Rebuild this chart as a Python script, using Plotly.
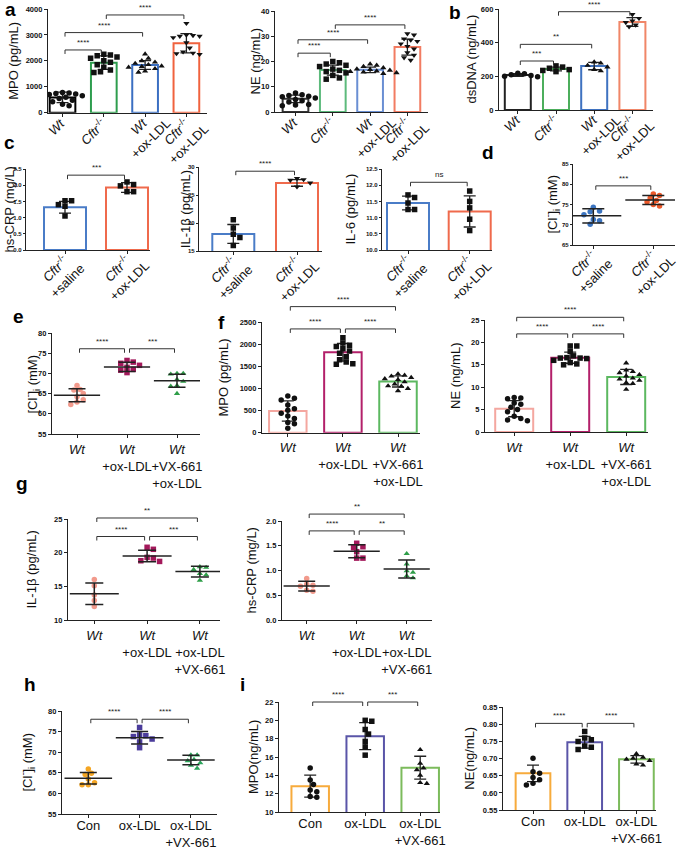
import re
import numpy as np
import plotly.graph_objects as go

W, H = 685, 849
FONT = "Arial, Liberation Sans, sans-serif"

# ---------------- data ----------------
GROUPS_A = ["<i>Wt</i>", "<i>Cftr</i><sup>-/-</sup>", "<i>Wt</i><br>+ox-LDL",
            "<i>Cftr</i><sup>-/-</sup><br>+ox-LDL"]
GROUPS_C = ["<i>Cftr</i><sup>-/-</sup><br>+saline", "<i>Cftr</i><sup>-/-</sup><br>+ox-LDL"]
GROUPS_EF = ["<i>Wt</i>", "<i>Wt</i><br>+ox-LDL", "<i>Wt</i><br>+VX-661<br>+ox-LDL"]
GROUPS_G = ["<i>Wt</i>", "<i>Wt</i><br>+ox-LDL", "<i>Wt</i><br>+ox-LDL<br>+VX-661"]
GROUPS_HI = ["Con", "ox-LDL", "ox-LDL<br>+VX-661"]

MPO_A = [[780, 760, 740, 720, 700, 650, 600, 550, 480, 420, 330, 270],
         [2250, 2230, 2200, 2150, 2100, 2000, 1950, 1850, 1750, 1650, 1580, 1550],
         [2260, 2100, 2000, 1950, 1900, 1850, 1800, 1780, 1750, 1700, 1600, 1560],
         [3450, 3000, 2980, 2950, 2950, 2900, 2700, 2500, 2350, 2300, 2280, 2250]]
MPO_A_MEAN = [590, 1930, 1840, 2680]
MPO_A_SD = [200, 260, 170, 370]

NE_A = [[7.5, 6.8, 6.5, 6.2, 6.0, 5.5, 5.0, 4.5, 4.0, 3.0, 2.8, 2.5],
        [20, 19.5, 19, 18.5, 18, 17, 16.5, 16, 15.5, 14.5, 13.5, 13],
        [19, 18.5, 18, 17.5, 17, 16.8, 16.5, 16.2, 16, 15.8, 15.5, 15.2],
        [31, 30.5, 29, 28.5, 28, 27, 26, 25, 23.5, 22.5, 21.5, 20.5]]
NE_A_MEAN = [5.2, 16.6, 16.7, 25.7]
NE_A_SD = [1.5, 2.0, 1.1, 3.2]

DSDNA_B = [[218, 215, 210, 205, 200, 198],
           [262, 255, 248, 240, 235, 228],
           [285, 278, 265, 255, 240, 232],
           [568, 545, 530, 520, 505, 495]]
DSDNA_B_MEAN = [208, 244, 261, 523]
DSDNA_B_SD = [8, 11, 22, 26]

CRP_C = [[1.52, 1.52, 1.40, 1.35, 1.05], [2.10, 2.02, 1.98, 1.80, 1.80]]
CRP_C_MEAN = [1.32, 1.93]
CRP_C_SD = [0.18, 0.15]

IL1B_C = [[20.6, 19.1, 18.0, 17.4, 16.0], [28.0, 27.8, 27.7, 27.2, 26.5]]
IL1B_C_MEAN = [18.05, 27.2]
IL1B_C_SD = [1.7, 0.6]

IL6_C = [[11.70, 11.62, 11.45, 11.25, 11.25], [11.82, 11.50, 11.30, 10.95, 10.60]]
IL6_C_MEAN = [11.45, 11.19]
IL6_C_SD = [0.21, 0.48]

CL_D = [[74.3, 73.4, 73.2, 72.5, 71.3, 71.0, 70.1],
        [77.6, 77.2, 76.6, 76.0, 75.6, 75.0, 74.6]]
CL_D_MEAN = [72.2, 76.1]
CL_D_SD = [1.75, 1.1]

CL_E = [[67.0, 66.0, 65.9, 65.0, 64.2, 63.5, 62.9, 62.3],
        [73.2, 72.8, 72.5, 72.0, 71.5, 71.0, 70.8, 70.2],
        [70.0, 70.0, 69.8, 68.5, 68.0, 67.0, 66.8, 65.0]]
CL_E_MEAN = [64.6, 71.6, 68.2]
CL_E_SD = [1.6, 1.15, 1.6]

MPO_F = [[830, 780, 740, 630, 540, 510, 440, 380, 320, 230, 200, 100],
         [2150, 2030, 1980, 1950, 1900, 1850, 1800, 1720, 1650, 1600, 1560, 1550],
         [1330, 1300, 1280, 1250, 1220, 1200, 1150, 1100, 1060, 1050, 1000, 950]]
MPO_F_MEAN = [490, 1820, 1160]
MPO_F_SD = [230, 200, 125]

NE_F = [[7.7, 7.6, 7.4, 6.5, 6.2, 5.5, 5.0, 4.5, 3.5, 3.0, 2.7, 2.5],
        [19.2, 19.2, 18.0, 17.0, 16.6, 16.5, 16.5, 16.4, 16.0, 15.5, 15.2, 15.0],
        [15.4, 13.8, 13.5, 13.2, 12.8, 12.5, 12.0, 11.8, 11.5, 11.0, 10.8, 9.5]]
NE_F_MEAN = [5.2, 16.6, 12.3]
NE_F_SD = [1.8, 1.25, 1.7]

IL1B_G = [[16.0, 15.1, 13.7, 12.9, 12.0],
          [20.8, 20.5, 19.3, 19.2, 18.8, 18.7],
          [17.9, 17.8, 17.5, 16.9, 16.7, 15.9]]
IL1B_G_MEAN = [13.9, 19.5, 17.2]
IL1B_G_SD = [1.6, 0.85, 0.8]

CRP_G = [[0.84, 0.72, 0.70, 0.68, 0.60, 0.58],
         [1.55, 1.48, 1.46, 1.38, 1.25, 1.25],
         [1.34, 1.13, 0.99, 0.96, 0.89, 0.85]]
CRP_G_MEAN = [0.685, 1.39, 1.03]
CRP_G_SD = [0.10, 0.13, 0.18]

CL_H = [[65.9, 64.9, 64.6, 63.5, 62.6, 62.1, 62.1],
        [76.0, 74.2, 74.0, 73.8, 73.2, 72.5, 71.1],
        [69.3, 69.3, 68.2, 67.9, 67.4, 66.8, 66.1]]
CL_H_MEAN = [63.7, 73.5, 68.1]
CL_H_SD = [1.4, 1.5, 1.15]

MPO_I = [[14.8, 13.5, 13.0, 12.4, 12.2, 11.7, 11.6],
         [20.0, 19.9, 19.0, 18.5, 17.7, 17.1, 16.2],
         [16.8, 15.3, 14.8, 14.6, 14.0, 13.2, 13.1]]
MPO_I_MEAN = [12.82, 18.27, 14.83]
MPO_I_SD = [1.2, 1.47, 1.25]

NE_I = [[0.701, 0.662, 0.657, 0.645, 0.638, 0.628, 0.623],
        [0.779, 0.760, 0.755, 0.750, 0.737, 0.733, 0.727],
        [0.714, 0.704, 0.701, 0.698, 0.694, 0.684, 0.681]]
NE_I_MEAN = [0.657, 0.748, 0.698]
NE_I_SD = [0.024, 0.017, 0.011]

# significance brackets: (group i, group j, height, label)
BR_MPO_A = [(0, 1, 2420, "****"), (0, 2, 3090, "****"), (1, 3, 3770, "****")]
BR_NE_A = [(0, 1, 23.3, "****"), (0, 2, 28.6, "****"), (1, 3, 34.5, "****")]
BR_DSDNA_B = [(0, 1, 291, "***"), (0, 2, 390, "**"), (1, 3, 584, "****")]
BR_CRP_C = [(0, 1, 2.31, "***")]
BR_IL1B_C = [(0, 1, 29.3, "****")]
BR_IL6_C = [(0, 1, 12.09, "ns")]
BR_CL_D = [(0, 1, 79.6, "***")]
BR_CL_E = [(0, 1, 76.1, "****"), (1, 2, 76.1, "***")]
BR_MPO_F = [(0, 1, 2350, "****"), (1, 2, 2350, "****"), (0, 2, 2855, "****")]
BR_NE_F = [(0, 1, 21.9, "****"), (1, 2, 21.9, "****"), (0, 2, 25.6, "****")]
BR_IL1B_G = [(0, 1, 22.4, "****"), (1, 2, 22.4, "***"), (0, 2, 25.15, "**")]
BR_CRP_G = [(0, 1, 1.80, "****"), (1, 2, 1.80, "**"), (0, 2, 2.14, "**")]
BR_CL_H = [(0, 1, 78.0, "****"), (1, 2, 78.0, "****")]
BR_MPO_I = [(0, 1, 22.0, "****"), (1, 2, 22.0, "***")]
BR_NE_I = [(0, 1, 0.803, "****"), (1, 2, 0.803, "****")]

SYM4 = ["circle", "square", "triangle-up", "triangle-down"]
SYM3 = ["circle", "square", "triangle-up"]

# layout of each panel in pixels: axis box, first category centre, spacing, y-title x
PANELS = [
    dict(kind="bar", box=(48, 207, 9, 112.7), c0=62.5, step=41.3, w=25.7, yr=(0, 4000), dt=1000, fmt="d",
         title="MPO (pg/mL)", tx=14, ticks=GROUPS_A, angle=-45, pts=MPO_A, mean=MPO_A_MEAN, sd=MPO_A_SD,
         col=["#000000", "#2e9d4e", "#3b6fc2", "#f0623e"], sym=SYM4, br=BR_MPO_A),
    dict(kind="bar", box=(275, 428, 11, 112), c0=295.5, step=37.3, w=25.7, yr=(0, 40), dt=10, fmt="d",
         title="NE (ng/mL)", tx=255, ticks=GROUPS_A, angle=-45, pts=NE_A, mean=NE_A_MEAN, sd=NE_A_SD,
         col=["#333333", "#5dba7c", "#6a8fd3", "#f27c62"], sym=SYM4, br=BR_NE_A),
    dict(kind="bar", box=(499, 653, 9, 110), c0=517.8, step=38.2, w=26, yr=(0, 600), dt=200, fmt="d",
         title="dsDNA (ng/mL)", tx=471, ticks=GROUPS_A, angle=-45, pts=DSDNA_B, mean=DSDNA_B_MEAN,
         sd=DSDNA_B_SD, col=["#222222", "#4cae5c", "#3f72c0", "#f08668"], sym=SYM4, br=BR_DSDNA_B),
    dict(kind="bar", box=(26, 150, 169, 250), c0=65, step=62, w=42, yr=(0, 2.5), dt=0.5, fmt=".1f",
         title="hs-CRP (mg/L)", tx=9, ticks=GROUPS_C, angle=-45, pts=CRP_C, mean=CRP_C_MEAN, sd=CRP_C_SD,
         col=["#4a7cc7", "#ef6a4c"], sym=["square", "square"], br=BR_CRP_C),
    dict(kind="bar", box=(199, 322, 167.3, 251), c0=233.3, step=63.7, w=42, yr=(15, 30), dt=5, fmt="d",
         title="IL-1β (pg/mL)", tx=185, ticks=GROUPS_C, angle=-45, pts=IL1B_C, mean=IL1B_C_MEAN,
         sd=IL1B_C_SD, col=["#4a7cc7", "#ef6a4c"], sym=["square", "triangle-down"], br=BR_IL1B_C),
    dict(kind="bar", box=(382, 492, 169, 250), c0=408, step=61.7, w=42, yr=(10, 12.5), dt=0.5, fmt=".1f",
         title="IL-6 (pg/mL)", tx=350, ticks=GROUPS_C, angle=-45, pts=IL6_C, mean=IL6_C_MEAN, sd=IL6_C_SD,
         col=["#4a7cc7", "#ef6a4c"], sym=["square", "square"], br=BR_IL6_C),
    dict(kind="dot", box=(573, 675, 164, 245), c0=593.3, step=60, w=40, cap=22, yr=(65, 85), dt=5, fmt="d",
         title="[Cl<sup>-</sup>]<sub>i</sub> (mM)", tx=553, ticks=GROUPS_C, angle=-45, pts=CL_D,
         mean=CL_D_MEAN, sd=CL_D_SD, col=["#3b74c0", "#ee5a2a"], sym=["circle", "circle"], br=BR_CL_D),
    dict(kind="dot", box=(52, 200, 333, 434), c0=77, step=50, w=33, cap=17, yr=(55, 80), dt=5, fmt="d",
         title="[Cl<sup>-</sup>]<sub>i</sub> (mM)", tx=32, ticks=GROUPS_EF, angle=0, pts=CL_E,
         mean=CL_E_MEAN, sd=CL_E_SD, col=["#f29a8c", "#a3195b", "#2e9e48"], sym=SYM3, br=BR_CL_E),
    dict(kind="bar", box=(262, 420, 322.3, 432.7), c0=287.8, step=55.1, w=37.5, yr=(0, 2500), dt=500,
         fmt="d", title="MPO (pg/mL)", tx=223, ticks=GROUPS_EF, angle=0, pts=MPO_F, mean=MPO_F_MEAN,
         sd=MPO_F_SD, col=["#f4a7a0", "#b3206a", "#5cb860"], sym=SYM3, br=BR_MPO_F),
    dict(kind="bar", box=(485, 648, 320, 432), c0=514.2, step=56, w=38, yr=(0, 25), dt=5, fmt="d",
         title="NE (ng/mL)", tx=455, ticks=GROUPS_EF, angle=0, pts=NE_F, mean=NE_F_MEAN, sd=NE_F_SD,
         col=["#f4a7a0", "#b3206a", "#5cb860"], sym=SYM3, br=BR_NE_F),
    dict(kind="dot", box=(68, 220, 519, 620), c0=94.3, step=52.8, w=35, cap=18, yr=(10, 25), dt=5, fmt="d",
         title="IL-1β (pg/mL)", tx=31, ticks=GROUPS_G, angle=0, pts=IL1B_G, mean=IL1B_G_MEAN,
         sd=IL1B_G_SD, col=["#f29a8c", "#a3195b", "#2e9e48"], sym=SYM3, br=BR_IL1B_G),
    dict(kind="dot", box=(282, 432, 521, 620), c0=306.7, step=50, w=33, cap=17, yr=(0, 2.0), dt=0.5,
         fmt=".1f", title="hs-CRP (mg/L)", tx=251, ticks=GROUPS_G, angle=0, pts=CRP_G, mean=CRP_G_MEAN,
         sd=CRP_G_SD, col=["#f29a8c", "#a3195b", "#2e9e48"], sym=SYM3, br=BR_CRP_G),
    dict(kind="dot", box=(62, 217, 711, 814), c0=88.3, step=51.3, w=34, cap=17, yr=(55, 80), dt=5, fmt="d",
         title="[Cl<sup>-</sup>]<sub>i</sub> (mM)", tx=27, ticks=GROUPS_HI, angle=0, pts=CL_H,
         mean=CL_H_MEAN, sd=CL_H_SD, col=["#f5a623", "#4b3c9b", "#2aa55a"], sym=SYM3, br=BR_CL_H),
    dict(kind="bar", box=(279, 440, 702, 812), c0=310.2, step=55, w=37.5, yr=(10, 22), dt=2, fmt="d",
         title="MPO(ng/mL)", tx=253, ticks=GROUPS_HI, angle=0, pts=MPO_I, mean=MPO_I_MEAN, sd=MPO_I_SD,
         col=["#f7ab3c", "#5a55a8", "#7cbb5c"], sym=SYM3, br=BR_MPO_I),
    dict(kind="bar", box=(503, 656, 707.3, 810), c0=533, step=51.7, w=34.7, yr=(0.55, 0.85), dt=0.05,
         fmt=".2f", title="NE(ng/mL)", tx=470, ticks=GROUPS_HI, angle=0, pts=NE_I, mean=NE_I_MEAN,
         sd=NE_I_SD, col=["#f7ab3c", "#5a55a8", "#7cbb5c"], sym=SYM3, br=BR_NE_I),
]

LETTERS = [("a", 10, 10), ("b", 455, 13), ("c", 9, 143), ("d", 488, 153), ("e", 18, 316),
           ("f", 221, 322), ("g", 22, 483), ("h", 30, 684), ("i", 243, 684)]

# rough Arial advance widths (per 1000 em) for placing the slanted labels
CW = {"W": 944, "t": 278, "C": 722, "f": 278, "r": 333, "+": 584, "o": 556, "x": 500, "-": 333,
      "L": 556, "D": 722, "s": 500, "a": 556, "l": 222, "i": 222, "n": 556, "e": 556, "/": 278}
XFS = 13  # x label font size


def text_w(line, size):
    total = 0.0
    for part in re.split(r"(<sup>.*?</sup>)", line):
        fs = size * 0.7 if part.startswith("<sup>") else size
        total += sum(CW.get(c, 556) for c in re.sub(r"<.*?>", "", part)) * fs / 1000
    return total


def swarm(vals, upx, d=5.5):
    # simple beeswarm: offsets in px so that markers do not overlap
    ys = np.asarray(vals, float) * upx
    offs = np.zeros(len(ys))
    done = []
    for i in np.argsort(-ys):
        k = 0
        while True:
            c = 0.0 if k == 0 else ((k + 1) // 2) * (1 if k % 2 else -1) * d * 0.6
            if all(np.hypot(c - offs[j], ys[i] - ys[j]) >= d * 0.95 for j in done):
                break
            k += 1
        offs[i] = c
        done.append(i)
    return offs


fig = go.Figure()
shapes, annots = [], []
r2 = np.sqrt(0.5)

for n, p in enumerate(PANELS, start=1):
    sfx = "" if n == 1 else str(n)
    left, right, top, bottom = p["box"]
    y0, y1 = p["yr"]
    upx = (bottom - top) / (y1 - y0)
    ng = len(p["mean"])
    xs = list(range(ng))
    xr = [(left - p["c0"]) / p["step"], (right - p["c0"]) / p["step"]]
    dark = "#222222"
    small = bottom - top < 90
    slanted = p["angle"] != 0

    if p["kind"] == "bar":
        fig.add_trace(go.Bar(
            x=xs, y=p["mean"], width=p["w"] / p["step"], xaxis="x" + sfx, yaxis="y" + sfx,
            marker=dict(color="white", line=dict(color=p["col"], width=2)),
            error_y=dict(type="data", array=p["sd"], color=dark, thickness=1.3, width=6)))
    for g in range(ng):
        off = swarm(p["pts"][g], upx, 5.5 if p["kind"] == "bar" else 5.2)
        mcol = "#111111" if p["kind"] == "bar" else p["col"][g]
        fig.add_trace(go.Scatter(
            x=g + off / p["step"], y=p["pts"][g], mode="markers", xaxis="x" + sfx, yaxis="y" + sfx,
            marker=dict(symbol=p["sym"][g], size=5.5, color=mcol, line=dict(width=0))))
    if p["kind"] == "dot":
        fig.add_trace(go.Scatter(
            x=xs, y=p["mean"], mode="markers", xaxis="x" + sfx, yaxis="y" + sfx,
            marker=dict(symbol="line-ew", size=p["w"], color=dark, line=dict(width=1.5, color=dark)),
            error_y=dict(type="data", array=p["sd"], color=dark, thickness=1.5, width=p["cap"] / 2)))

    fig.update_layout(**{
        "xaxis" + sfx: dict(domain=[left / W, right / W], range=xr, anchor="y" + sfx,
                            tickvals=xs, ticktext=p["ticks"], showticklabels=not slanted,
                            tickangle=0, ticklabelstandoff=-4 if bottom > 800 else 0,
                            showline=True, linecolor=dark, linewidth=1.3, ticks="outside",
                            ticklen=3, tickwidth=1, tickcolor=dark, showgrid=False, zeroline=False,
                            tickfont=dict(size=XFS, color="#111111", family=FONT), automargin=False,
                            fixedrange=True),
        "yaxis" + sfx: dict(domain=[1 - bottom / H, 1 - top / H], range=[y0, y1], anchor="x" + sfx,
                            tick0=y0, dtick=p["dt"], tickformat=p["fmt"],
                            showline=True, linecolor=dark, linewidth=1.3, ticks="outside",
                            ticklen=2 if small else 3, tickwidth=1, tickcolor=dark, showgrid=False,
                            zeroline=False,
                            tickfont=dict(size=6 if small else 7.5, color="#111111", family=FONT,
                                          weight="bold"),
                            automargin=False, fixedrange=True),
    })

    # slanted category labels: first line ends at the tick, further lines centred under it
    if slanted:
        for g, lab in enumerate(p["ticks"]):
            lines = lab.split("<br>")
            l1 = text_w(lines[0], XFS)
            ex, ey = p["c0"] + g * p["step"], bottom + 8
            cx = ex - l1 / 2 * r2 + (len(lines) - 1) * 1.3 * XFS / 2 * r2
            cy = ey + l1 / 2 * r2 + (len(lines) - 1) * 1.3 * XFS / 2 * r2
            annots.append(dict(x=cx / W, y=1 - cy / H, xref="paper", yref="paper", text=lab,
                               textangle=-45, align="center", showarrow=False, xanchor="center",
                               yanchor="middle", font=dict(size=XFS, color="#111111", family=FONT)))

    # y-axis title as a rotated annotation
    annots.append(dict(x=p["tx"] / W, y=1 - (top + bottom) / 2 / H, xref="paper", yref="paper",
                       text=p["title"], textangle=-90, showarrow=False, xanchor="center",
                       yanchor="middle", font=dict(size=13, color="#111111", family=FONT)))

    # significance brackets, drawn in paper coordinates so they can sit above the axis
    for gi, gj, hv, lab in p["br"]:
        xa = p["c0"] + gi * p["step"] + 2.5
        xb = p["c0"] + gj * p["step"] - 2.5
        yb = bottom - (hv - y0) * upx
        seg = [(xa, yb, xb, yb), (xa, yb, xa, yb + 4), (xb, yb, xb, yb + 4)]
        for sx0, sy0, sx1, sy1 in seg:
            shapes.append(dict(type="line", xref="paper", yref="paper",
                               x0=sx0 / W, x1=sx1 / W, y0=1 - sy0 / H, y1=1 - sy1 / H,
                               line=dict(color="#333333", width=1)))
        annots.append(dict(x=(xa + xb) / 2 / W, y=1 - (yb - 1) / H, xref="paper", yref="paper",
                           text=lab, showarrow=False, yanchor="bottom", xanchor="center",
                           font=dict(size=8, color="#222222", family=FONT)))

for lab, lx, ly in LETTERS:
    annots.append(dict(x=lx / W, y=1 - ly / H, xref="paper", yref="paper", text="<b>%s</b>" % lab,
                       showarrow=False, xanchor="center", yanchor="middle",
                       font=dict(size=19, color="#000000", family=FONT)))

fig.update_layout(width=W, height=H, margin=dict(l=0, r=0, t=0, b=0),
                  paper_bgcolor="white", plot_bgcolor="white", showlegend=False,
                  font=dict(family=FONT), shapes=shapes, annotations=annots, barmode="overlay")

# the page body has a default 8px margin; drop it so the figure fills the window
fig.write_html("out.html", config={"displayModeBar": False},
               post_script="document.body.style.margin='0';")
